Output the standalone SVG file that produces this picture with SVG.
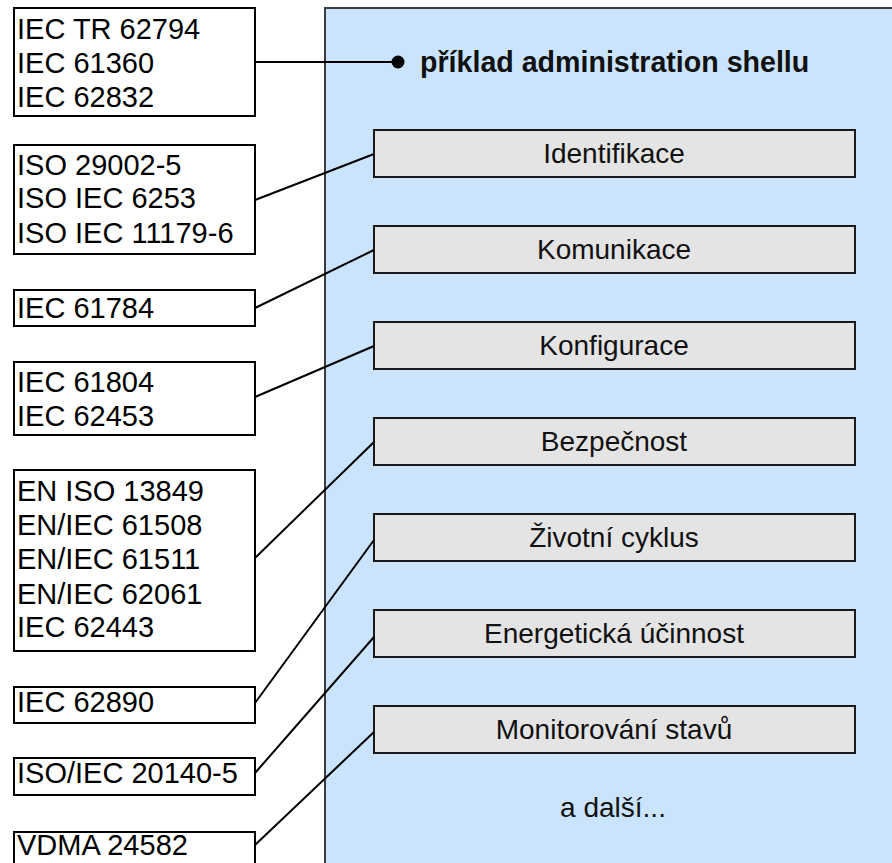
<svg xmlns="http://www.w3.org/2000/svg" width="892" height="863" viewBox="0 0 892 863">
<style>
.std{fill:#ffffff;stroke:#000000;stroke-width:2}
.t{font-family:"Liberation Sans",Arial,sans-serif;font-size:29px;fill:#000000}
.feat rect{fill:#e4e4e4;stroke:#1a1a1a;stroke-width:2}
.feat text{font-family:"Liberation Sans",Arial,sans-serif;font-size:28px;fill:#111111;text-anchor:middle}
.conn line{stroke:#000000;stroke-width:2}
</style>
<rect width="892" height="863" fill="#ffffff"/>
<g id="shell">
<rect x="325" y="8" width="600" height="900" fill="#cbe4fd" stroke="#3c3c3c" stroke-width="2"/>
<text x="420" y="72" font-family="'Liberation Sans',Arial,sans-serif" font-size="28.6" font-weight="bold" fill="#111111">příklad administration shellu</text>
</g>
<g id="std1"><rect class="std" x="14" y="8" width="241" height="108"/>
<text class="t" x="17" y="39">IEC TR 62794</text><text class="t" x="17" y="73">IEC 61360</text><text class="t" x="17" y="107">IEC 62832</text></g>
<g id="std2"><rect class="std" x="14" y="145" width="241" height="109"/>
<text class="t" x="17" y="175">ISO 29002-5</text><text class="t" x="17" y="208">ISO IEC 6253</text><text class="t" x="17" y="243">ISO IEC 11179-6</text></g>
<g id="std3"><rect class="std" x="14" y="290" width="241" height="36"/>
<text class="t" x="17" y="318">IEC 61784</text></g>
<g id="std4"><rect class="std" x="14" y="362" width="241" height="73"/>
<text class="t" x="17" y="392">IEC 61804</text><text class="t" x="17" y="426">IEC 62453</text></g>
<g id="std5"><rect class="std" x="14" y="470" width="241" height="181"/>
<text class="t" x="17" y="501">EN ISO 13849</text><text class="t" x="17" y="535">EN/IEC 61508</text><text class="t" x="17" y="569">EN/IEC 61511</text><text class="t" x="17" y="604">EN/IEC 62061</text><text class="t" x="17" y="637">IEC 62443</text></g>
<g id="std6"><rect class="std" x="14" y="687" width="241" height="36"/>
<text class="t" x="17" y="712">IEC 62890</text></g>
<g id="std7"><rect class="std" x="14" y="758" width="241" height="37"/>
<text class="t" x="17" y="783">ISO/IEC 20140-5</text></g>
<g id="std8"><rect class="std" x="14" y="832" width="241" height="60"/>
<text class="t" x="17" y="855">VDMA 24582</text></g>
<g id="f1" class="feat"><rect x="374" y="130" width="481" height="47"/><text x="614" y="163">Identifikace</text></g>
<g id="f2" class="feat"><rect x="374" y="226" width="481" height="47"/><text x="614" y="259">Komunikace</text></g>
<g id="f3" class="feat"><rect x="374" y="322" width="481" height="47"/><text x="614" y="355">Konfigurace</text></g>
<g id="f4" class="feat"><rect x="374" y="418" width="481" height="47"/><text x="614" y="451">Bezpečnost</text></g>
<g id="f5" class="feat"><rect x="374" y="514" width="481" height="47"/><text x="614" y="547">Životní cyklus</text></g>
<g id="f6" class="feat"><rect x="374" y="610" width="481" height="47"/><text x="614" y="643">Energetická účinnost</text></g>
<g id="f7" class="feat"><rect x="374" y="706" width="481" height="47"/><text x="614" y="739">Monitorování stavů</text></g>
<g id="more"><text x="613" y="817" font-family="'Liberation Sans',Arial,sans-serif" font-size="28" text-anchor="middle" fill="#111111">a další...</text></g>
<g id="connectors" class="conn">
<line x1="255" y1="62" x2="398" y2="62"/>
<circle cx="398" cy="62" r="6.5" fill="#000000"/>
<line x1="255" y1="200" x2="374" y2="154"/>
<line x1="255" y1="308" x2="374" y2="250"/>
<line x1="255" y1="397" x2="374" y2="346"/>
<line x1="255" y1="558" x2="374" y2="442"/>
<line x1="255" y1="703" x2="374" y2="540"/>
<line x1="255" y1="773" x2="374" y2="637"/>
<line x1="255" y1="845" x2="374" y2="732"/>
</g>
</svg>
